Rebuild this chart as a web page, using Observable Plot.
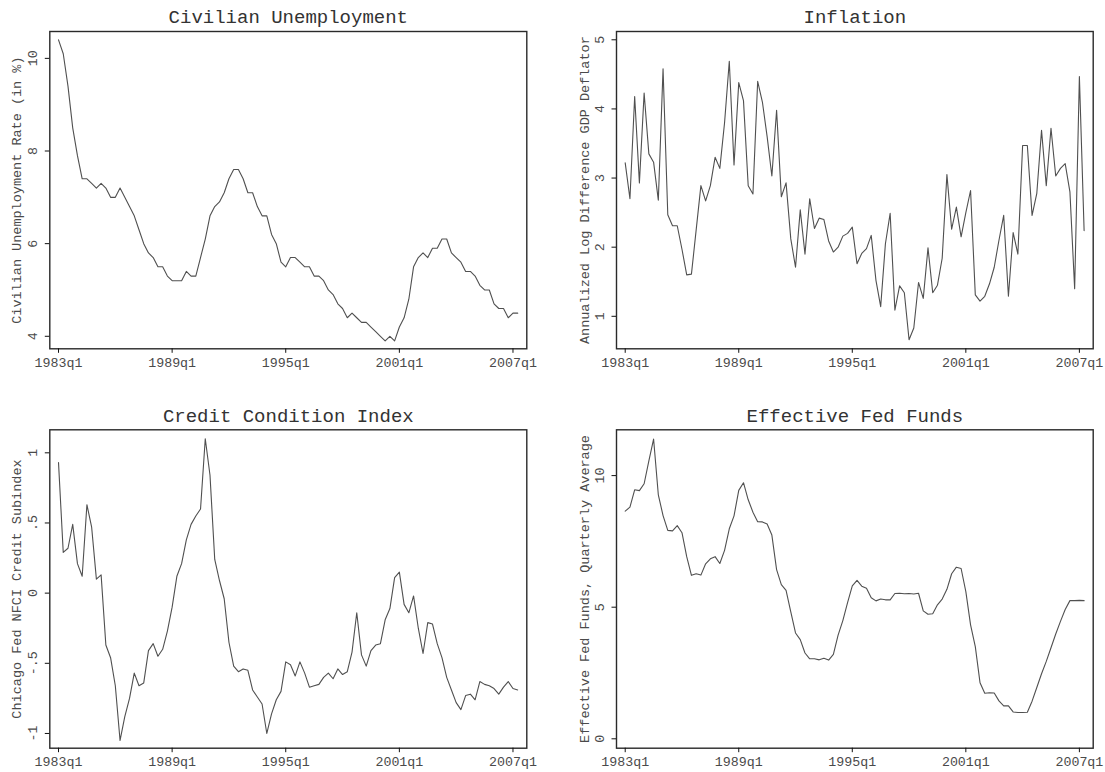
<!DOCTYPE html>
<html><head><meta charset="utf-8">
<script src="https://cdn.jsdelivr.net/npm/d3@7"></script>
<script src="https://cdn.jsdelivr.net/npm/@observablehq/plot@0.6"></script>
<style>
body{margin:0;background:#fff;}
#wrap{position:relative;width:1105px;height:772px;overflow:hidden;background:#fff;}
#wrap svg{position:absolute;}
</style></head><body><div id="wrap"></div>
<script>
// Quarterly data, 1983q1 .. 2007q2
const startYear = 1983;

const unemployment = [
  10.4, 10.1, 9.4, 8.5,  7.9, 7.4, 7.4, 7.3,  7.2, 7.3, 7.2, 7.0,  7.0, 7.2, 7.0, 6.8,
  6.6, 6.3, 6.0, 5.8,  5.7, 5.5, 5.5, 5.3,  5.2, 5.2, 5.2, 5.4,  5.3, 5.3, 5.7, 6.1,
  6.6, 6.8, 6.9, 7.1,  7.4, 7.6, 7.6, 7.4,  7.1, 7.1, 6.8, 6.6,  6.6, 6.2, 6.0, 5.6,
  5.5, 5.7, 5.7, 5.6,  5.5, 5.5, 5.3, 5.3,  5.2, 5.0, 4.9, 4.7,  4.6, 4.4, 4.5, 4.4,
  4.3, 4.3, 4.2, 4.1,  4.0, 3.9, 4.0, 3.9,  4.2, 4.4, 4.8, 5.5,  5.7, 5.8, 5.7, 5.9,
  5.9, 6.1, 6.1, 5.8,  5.7, 5.6, 5.4, 5.4,  5.3, 5.1, 5.0, 5.0,  4.7, 4.6, 4.6, 4.4,
  4.5, 4.5
];

const inflation = [
  3.22, 2.70, 4.18, 2.93,  4.23, 3.35, 3.23, 2.68,  4.58, 2.47, 2.31, 2.31,  1.97, 1.60, 1.61, 2.25,
  2.89, 2.67, 2.89, 3.30,  3.14, 3.80, 4.69, 3.19,  4.38, 4.12, 2.89, 2.77,  4.40, 4.10, 3.60, 3.03,
  3.98, 2.73, 2.93, 2.12,  1.71, 2.54, 1.90, 2.70,  2.27, 2.42, 2.40, 2.09,  1.93, 2.00, 2.16, 2.20,
  2.29, 1.76, 1.91, 1.98,  2.17, 1.52, 1.14, 2.05,  2.49, 1.09, 1.44, 1.34,  0.66, 0.83, 1.49, 1.26,
  1.99, 1.34, 1.45, 1.84,  3.05, 2.26, 2.58, 2.15,  2.50, 2.82, 1.31, 1.22,  1.29, 1.47, 1.71, 2.10,
  2.46, 1.29, 2.21, 1.90,  3.47, 3.47, 2.46, 2.78,  3.69, 2.89, 3.72, 3.03,  3.14, 3.21, 2.80, 1.40,
  4.47, 2.24
];

const creditIndex = [
  0.93, 0.29, 0.32, 0.49,  0.21, 0.12, 0.63, 0.47,  0.10, 0.13, -0.37, -0.46,  -0.66, -1.05, -0.88, -0.75,
  -0.57, -0.66, -0.64, -0.41,  -0.36, -0.45, -0.40, -0.27,  -0.10, 0.12, 0.21, 0.38,  0.49, 0.55, 0.60, 1.10,
  0.84, 0.24, 0.09, -0.04,  -0.35, -0.52, -0.56, -0.54,  -0.55, -0.69, -0.74, -0.79,  -1.00, -0.86, -0.76, -0.70,
  -0.49, -0.51, -0.59, -0.49,  -0.57, -0.67, -0.66, -0.65,  -0.60, -0.57, -0.61, -0.54,  -0.58, -0.56, -0.42, -0.14,
  -0.44, -0.52, -0.41, -0.37,  -0.36, -0.19, -0.11, 0.11,  0.15, -0.08, -0.14, -0.02,  -0.25, -0.43, -0.21, -0.22,
  -0.36, -0.46, -0.60, -0.69,  -0.78, -0.83, -0.73, -0.72,  -0.76, -0.63, -0.65, -0.66,  -0.68, -0.72, -0.67, -0.63,
  -0.68, -0.69
];

const fedFunds = [
  8.65, 8.80, 9.46, 9.43,  9.69, 10.56, 11.39, 9.27,  8.48, 7.92, 7.90, 8.10,  7.83, 6.92, 6.21, 6.27,
  6.22, 6.65, 6.84, 6.92,  6.66, 7.16, 7.98, 8.47,  9.44, 9.73, 9.08, 8.61,  8.25, 8.24, 8.16, 7.74,
  6.43, 5.86, 5.64, 4.82,  4.02, 3.77, 3.26, 3.04,  3.04, 3.00, 3.06, 2.99,  3.21, 3.94, 4.49, 5.17,
  5.81, 6.02, 5.80, 5.72,  5.36, 5.24, 5.31, 5.28,  5.28, 5.52, 5.53, 5.51,  5.52, 5.50, 5.53, 4.86,
  4.73, 4.75, 5.09, 5.31,  5.68, 6.27, 6.52, 6.47,  5.59, 4.33, 3.50, 2.13,  1.73, 1.75, 1.74, 1.44,
  1.25, 1.25, 1.02, 1.00,  1.00, 1.01, 1.43, 1.95,  2.47, 2.94, 3.46, 3.98,  4.46, 4.91, 5.25, 5.25,
  5.26, 5.25
];

const xTicks = [1983, 1989, 1995, 2001, 2007];
const xTickLabels = ["1983q1", "1989q1", "1995q1", "2001q1", "2007q1"];

const titles = ["Civilian Unemployment", "Inflation", "Credit Condition Index", "Effective Fed Funds"];
const yLabels = [
  "Civilian Unemployment Rate (in %)",
  "Annualized Log Difference GDP Deflator",
  "Chicago Fed NFCI Credit Subindex",
  "Effective Fed Funds, Quarterly Average"
];

const unempTicks = [4, 6, 8, 10];
const unempTickLabels = ["4", "6", "8", "10"];
const inflTicks = [1, 2, 3, 4, 5];
const inflTickLabels = ["1", "2", "3", "4", "5"];
const creditTicks = [-1, -0.5, 0, 0.5, 1];
const creditTickLabels = ["-1", "-.5", "0", ".5", "1"];
const fedTicks = [0, 5, 10];
const fedTickLabels = ["0", "5", "10"];

// ---- layout ----
const FONT = "'Liberation Mono', 'DejaVu Sans Mono', monospace";
const xDomain = [1982.54, 2007.73];
const leftCol = {x: 0, w: 552, ml: 49.3, mr: 25.7, labelDx: -32.8};
const rightCol = {x: 552, w: 553, ml: 64, mr: 12.3, labelDx: -32.1};
const topRow = {y: 0, h: 386, mt: 31, mb: 37.7};
const botRow = {y: 386, h: 386, mt: 43.3, mb: 24.3};

const panels = [
  {col: leftCol, row: topRow, title: titles[0], ylabel: yLabels[0], values: unemployment,
   ticks: unempTicks, tickLabels: unempTickLabels, yDomain: [3.73, 10.58]},
  {col: rightCol, row: topRow, title: titles[1], ylabel: yLabels[1], values: inflation,
   ticks: inflTicks, tickLabels: inflTickLabels, yDomain: [0.53, 5.12]},
  {col: leftCol, row: botRow, title: titles[2], ylabel: yLabels[2], values: creditIndex,
   ticks: creditTicks, tickLabels: creditTickLabels, yDomain: [-1.105, 1.164]},
  {col: rightCol, row: botRow, title: titles[3], ylabel: yLabels[3], values: fedFunds,
   ticks: fedTicks, tickLabels: fedTickLabels, yDomain: [-0.357, 11.74]}
];

const wrap = document.getElementById("wrap");

for (const p of panels) {
  const data = p.values.map((v, i) => ({t: startYear + i / 4, v}));
  const svg = Plot.plot({
    width: p.col.w,
    height: p.row.h,
    marginLeft: p.col.ml,
    marginRight: p.col.mr,
    marginTop: p.row.mt,
    marginBottom: p.row.mb,
    style: {fontFamily: FONT, fontSize: "13.3px", color: "#4a4a4a", background: "white", overflow: "visible"},
    x: {domain: xDomain},
    y: {domain: p.yDomain},
    marks: [
      Plot.line(data, {x: "t", y: "v", stroke: "#505050", strokeWidth: 1.1}),
      Plot.frame({stroke: "#2a2a2a", strokeWidth: 1.4}),
      Plot.axisX({
        ticks: xTicks,
        tickFormat: d => xTickLabels[xTicks.indexOf(d)],
        tickSize: 4.5, tickPadding: 4, label: null,
        stroke: "#111", fill: "#4a4a4a", fontSize: 13.3
      }),
      Plot.axisY({
        ticks: p.ticks,
        tickFormat: d => p.tickLabels[p.ticks.indexOf(d)],
        tickRotate: -90, tickSize: 4.5, tickPadding: 8.5, label: null,
        stroke: "#111", fill: "#4a4a4a", fontSize: 13.3
      }),
      Plot.text([p.title], {
        text: d => d, frameAnchor: "top", textAnchor: "middle", lineAnchor: "bottom", dy: -8.3,
        fontSize: 19, fill: "#333"
      }),
      Plot.text([p.ylabel], {
        text: d => d, frameAnchor: "left", textAnchor: "middle", rotate: -90, lineAnchor: "middle",
        dx: p.col.labelDx, fontSize: 13.5, fill: "#4a4a4a"
      })
    ]
  });
  svg.style.left = p.col.x + "px";
  svg.style.top = p.row.y + "px";
  wrap.appendChild(svg);
}
</script>
</body></html>
